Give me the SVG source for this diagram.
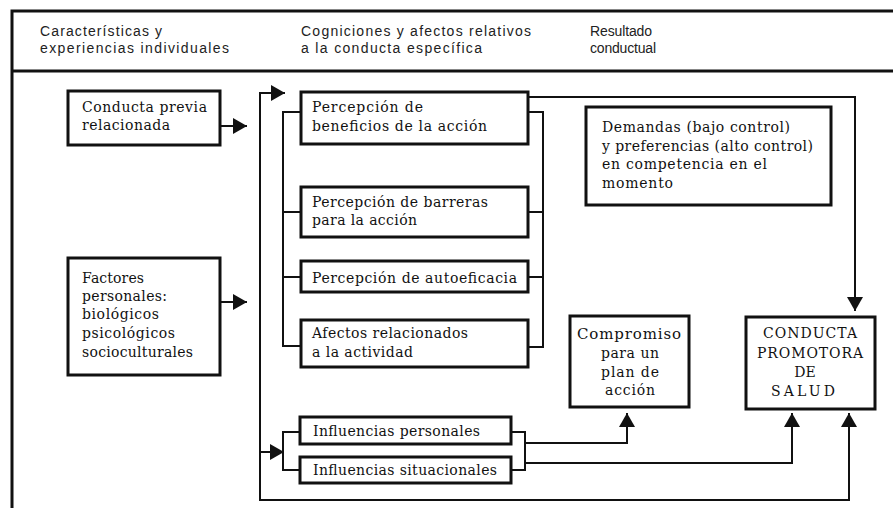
<svg xmlns="http://www.w3.org/2000/svg" width="893" height="508" viewBox="0 0 893 508">
<style>
.frame{fill:none;stroke:#111;stroke-width:3}
.box{fill:#fff;stroke:#111;stroke-width:3}
.con{fill:none;stroke:#111;stroke-width:2}
.hd{font-family:"Liberation Sans",Arial,sans-serif;font-size:14px;fill:#222}
.t{font-family:"DejaVu Serif","Liberation Serif",serif;font-size:14px;fill:#111}
.c{text-anchor:middle}
</style>
<defs>
<marker id="ah" markerUnits="userSpaceOnUse" markerWidth="15" markerHeight="16" refX="14" refY="8" orient="auto">
<path d="M0,0 L14,8 L0,16 z" fill="#111"/>
</marker>
</defs>
<rect width="893" height="508" fill="#fff"/>
<g id="frame">
<path class="frame" d="M893,11 H12 V508 M12,71 H893"/>
</g>
<g id="header">
<text class="hd" x="40" y="36" textLength="122" lengthAdjust="spacing">Características y</text>
<text class="hd" x="40" y="53" textLength="189" lengthAdjust="spacing">experiencias individuales</text>
<text class="hd" x="301" y="36" textLength="230" lengthAdjust="spacing">Cogniciones y afectos relativos</text>
<text class="hd" x="301" y="53" textLength="181" lengthAdjust="spacing">a la conducta específica</text>
<text class="hd" x="590" y="36" textLength="62" lengthAdjust="spacing">Resultado</text>
<text class="hd" x="590" y="53" textLength="66" lengthAdjust="spacing">conductual</text>
</g>
<g id="connectors">
<path class="con" d="M220,126 H247" marker-end="url(#ah)"/>
<path class="con" d="M220,302 H247" marker-end="url(#ah)"/>
<path class="con" d="M260,93 V500 H849 V413" marker-end="url(#ah)"/>
<path class="con" d="M259,93 H285" marker-end="url(#ah)"/>
<path class="con" d="M260,452 H284" marker-end="url(#ah)"/>
<path class="con" d="M301,112 H283 V346 H301 M283,212 H301 M283,277 H301"/>
<path class="con" d="M528,112 H543 V347 H528 M528,212 H543 M528,277 H543"/>
<path class="con" d="M528,97 H855 V311" marker-end="url(#ah)"/>
<path class="con" d="M300,432 H283 V470 H300"/>
<path class="con" d="M511,432 H525 V470 H511"/>
<path class="con" d="M525,443 H627 V413" marker-end="url(#ah)"/>
<path class="con" d="M525,463 H792 V413" marker-end="url(#ah)"/>
</g>
<g id="conducta-previa">
<rect class="box" x="68" y="91" width="152" height="54"/>
<text class="t" x="82" y="112" textLength="125" lengthAdjust="spacing">Conducta previa</text>
<text class="t" x="82" y="130" textLength="88" lengthAdjust="spacing">relacionada</text>
</g>
<g id="factores-personales">
<rect class="box" x="68" y="258" width="152" height="117"/>
<text class="t" x="82" y="283" textLength="62" lengthAdjust="spacing">Factores</text>
<text class="t" x="82" y="301" textLength="85" lengthAdjust="spacing">personales:</text>
<text class="t" x="82" y="319" textLength="77" lengthAdjust="spacing">biológicos</text>
<text class="t" x="82" y="338" textLength="93" lengthAdjust="spacing">psicológicos</text>
<text class="t" x="82" y="357" textLength="111" lengthAdjust="spacing">socioculturales</text>
</g>
<g id="beneficios">
<rect class="box" x="301" y="92" width="227" height="52"/>
<text class="t" x="312" y="112" textLength="111" lengthAdjust="spacing">Percepción de</text>
<text class="t" x="312" y="131" textLength="175" lengthAdjust="spacing">beneficios de la acción</text>
</g>
<g id="barreras">
<rect class="box" x="301" y="187" width="227" height="50"/>
<text class="t" x="312" y="207" textLength="176" lengthAdjust="spacing">Percepción de barreras</text>
<text class="t" x="312" y="225" textLength="105" lengthAdjust="spacing">para la acción</text>
</g>
<g id="autoeficacia">
<rect class="box" x="301" y="261" width="227" height="31"/>
<text class="t" x="312" y="283" textLength="205" lengthAdjust="spacing">Percepción de autoeficacia</text>
</g>
<g id="afectos">
<rect class="box" x="301" y="320" width="227" height="47"/>
<text class="t" x="312" y="338" textLength="156" lengthAdjust="spacing">Afectos relacionados</text>
<text class="t" x="312" y="357" textLength="101" lengthAdjust="spacing">a la actividad</text>
</g>
<g id="influencias-personales">
<rect class="box" x="300" y="417" width="211" height="27"/>
<text class="t" x="313" y="436" textLength="167" lengthAdjust="spacing">Influencias personales</text>
</g>
<g id="influencias-situacionales">
<rect class="box" x="300" y="457" width="211" height="26"/>
<text class="t" x="313" y="475" textLength="184" lengthAdjust="spacing">Influencias situacionales</text>
</g>
<g id="demandas">
<rect class="box" x="586" y="107" width="245" height="98"/>
<text class="t" x="602" y="132" textLength="188" lengthAdjust="spacing">Demandas (bajo control)</text>
<text class="t" x="602" y="151" textLength="211" lengthAdjust="spacing">y preferencias (alto control)</text>
<text class="t" x="602" y="169" textLength="165" lengthAdjust="spacing">en competencia en el</text>
<text class="t" x="602" y="188" textLength="71" lengthAdjust="spacing">momento</text>
</g>
<g id="compromiso">
<rect class="box" x="570" y="316" width="119" height="91"/>
<text class="t c" x="629" y="339" style="font-size:15px" textLength="104" lengthAdjust="spacing">Compromiso</text>
<text class="t c" x="630" y="358" textLength="58" lengthAdjust="spacing">para un</text>
<text class="t c" x="630" y="377" textLength="58" lengthAdjust="spacing">plan de</text>
<text class="t c" x="630" y="395" textLength="50" lengthAdjust="spacing">acción</text>
</g>
<g id="conducta-promotora">
<rect class="box" x="746" y="317" width="129" height="92"/>
<text class="t c" x="810" y="338" textLength="94" lengthAdjust="spacing">CONDUCTA</text>
<text class="t c" x="810" y="358" textLength="106" lengthAdjust="spacing">PROMOTORA</text>
<text class="t c" x="805" y="377">DE</text>
<text class="t c" x="803" y="396" textLength="64" lengthAdjust="spacing">SALUD</text>
</g>
</svg>
